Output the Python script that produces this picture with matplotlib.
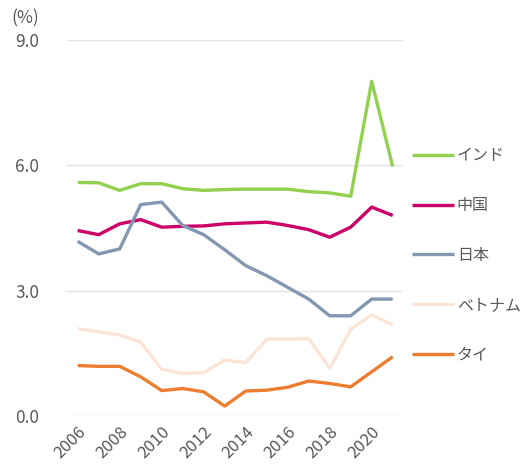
import matplotlib
matplotlib.use('Agg')
import matplotlib.pyplot as plt

plt.rcParams['font.family'] = ['Noto Sans CJK JP', 'DejaVu Sans']

# --- データ ---
years = list(range(2006, 2022))
india = [5.59, 5.58, 5.40, 5.56, 5.56, 5.44, 5.40, 5.42, 5.43, 5.43, 5.43, 5.37, 5.34, 5.26, 8.01, 5.97]
china = [4.44, 4.34, 4.60, 4.70, 4.52, 4.54, 4.55, 4.60, 4.62, 4.64, 4.56, 4.46, 4.28, 4.52, 5.00, 4.80]
japan = [4.18, 3.88, 4.00, 5.06, 5.12, 4.56, 4.34, 3.98, 3.60, 3.36, 3.08, 2.80, 2.40, 2.40, 2.80, 2.80]
vietnam = [2.09, 2.02, 1.94, 1.77, 1.12, 1.02, 1.04, 1.34, 1.28, 1.84, 1.84, 1.86, 1.14, 2.08, 2.42, 2.18]
thailand = [1.21, 1.19, 1.19, 0.94, 0.61, 0.66, 0.58, 0.24, 0.60, 0.62, 0.69, 0.84, 0.78, 0.70, 1.06, 1.42]

series = [
    ('インド', india, '#92d050'),
    ('中国', china, '#cc0066'),
    ('日本', japan, '#8497b0'),
    ('ベトナム', vietnam, '#fbe5d6'),
    ('タイ', thailand, '#ed7d31'),
]

yticks = [0.0, 3.0, 6.0, 9.0]
xticks = list(range(2006, 2021, 2))
gray = '#595959'

fig = plt.figure(figsize=(5.25, 4.75), dpi=100)
ax = fig.add_axes([0.128, 0.124, 0.64, 0.792])

for name, vals, col in series:
    ax.plot(years, vals, color=col, lw=2.4, label=name, solid_capstyle='butt')

ax.set_xlim(2005.5, 2021.5)
ax.set_ylim(0, 9)
ax.set_yticks(yticks)
ax.set_yticklabels([f'{v:.1f}' for v in yticks], fontsize=12.5, color=gray)
ax.set_xticks(xticks)
ax.set_xticklabels([str(x) for x in xticks], fontsize=12, color=gray,
                   rotation=45, ha='right', rotation_mode='anchor')
ax.tick_params(axis='y', length=0, pad=20)
ax.tick_params(axis='x', length=0, pad=5)
ax.grid(axis='y', color='#e3e3e3', lw=1)
ax.set_axisbelow(True)
for s in ax.spines.values():
    s.set_visible(False)

fig.text(0.022, 0.962, '(%)', fontsize=12.5, color=gray, va='center')

fig.legend(loc='center left', bbox_to_anchor=(0.785, 0.462), frameon=False,
           fontsize=11.5, handlelength=2.6, labelspacing=2.05,
           handletextpad=0.2, borderpad=0, borderaxespad=0, labelcolor=gray)

fig.savefig('out.png', dpi=100)
